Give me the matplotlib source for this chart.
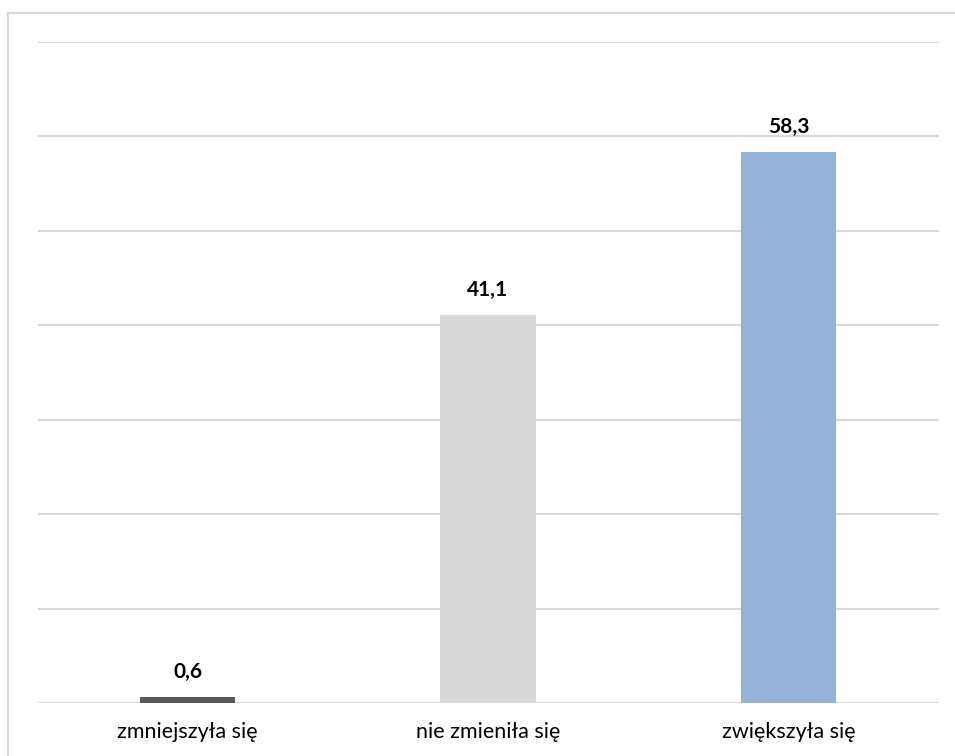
import matplotlib.pyplot as plt
from matplotlib.patches import Rectangle

categories = ['zmniejszyła się', 'nie zmieniła się', 'zwiększyła się']
values = [0.6, 41.1, 58.3]
labels = ['0,6', '41,1', '58,3']
colors = ['#595959', '#d9d9d9', '#95b3d7']


def main():
    plt.rcParams['font.family'] = ['Lato', 'DejaVu Sans']
    fig = plt.figure(figsize=(9.55, 7.56), dpi=100)
    ax = fig.add_axes([37.5 / 955, 1 - 703 / 756, 901 / 955, 661 / 756])

    # light frame around the chart area
    fig.patches.append(Rectangle((8 / 955, -0.01), 1.1, 1 - 13 / 756 + 0.01,
                                 transform=fig.transFigure, fill=False,
                                 edgecolor='#d9d9d9', linewidth=1.5))

    x = range(len(categories))
    ax.bar(x, values, width=0.317, color=colors, zorder=3)
    for xi, v, lab in zip(x, values, labels):
        ax.annotate(lab, (xi, v), xytext=(0, 11), textcoords='offset points',
                    ha='center', va='bottom', fontsize=15, fontweight='bold')

    ax.set_xlim(-0.5, 2.5)
    ax.set_ylim(0, 70)
    ax.set_yticks(range(0, 71, 10))
    ax.yaxis.grid(True, color='#d9d9d9', linewidth=1.5)
    ax.set_yticklabels([])
    ax.tick_params(left=False, bottom=False)
    ax.set_xticks(list(x))
    ax.set_xticklabels(categories, fontsize=15.5)
    ax.tick_params(axis='x', pad=10)
    for s in ax.spines.values():
        s.set_visible(False)

    fig.savefig('out.png', dpi=100)


if __name__ == "__main__":
    main()
